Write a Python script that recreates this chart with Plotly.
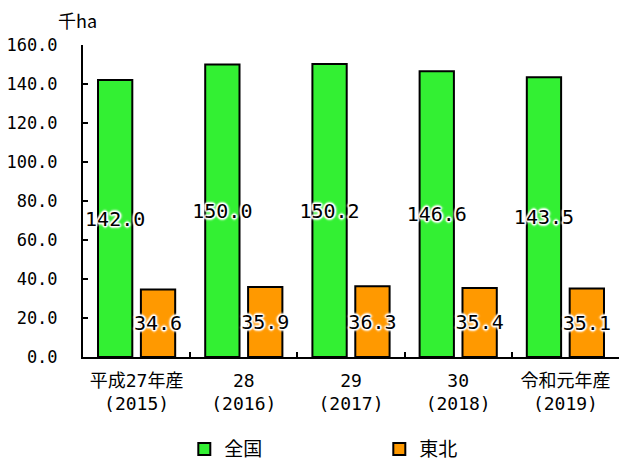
import plotly.graph_objects as go

# 作付面積（千ha）
years = ["平成27年産<br>(2015)", "28<br>(2016)", "29<br>(2017)", "30<br>(2018)", "令和元年産<br>(2019)"]
zenkoku = [142.0, 150.0, 150.2, 146.6, 143.5]
tohoku = [34.6, 35.9, 36.3, 35.4, 35.1]
y_ticks = [0, 20, 40, 60, 80, 100, 120, 140, 160]

num_font = "DejaVu Sans Mono, Noto Sans CJK JP"
jp_font = "Noto Sans CJK JP, DejaVu Sans"
# soft white glow behind the value labels
halo = ("white 1px 1px 1px, white -1px -1px 1px, white 1px -1px 1px, white -1px 1px 1px, "
        "white 2px 0px 2px, white -2px 0px 2px, white 0px 2px 2px, white 0px -2px 2px")

fig = go.Figure()
fig.add_trace(go.Bar(
    name="全国", x=years, y=zenkoku,
    marker=dict(color="#33F033", line=dict(color="black", width=2)),
    offset=-0.36, width=0.32,
    text=[f"{v:.1f}" for v in zenkoku], textposition="inside", textangle=0,
    insidetextanchor="middle", constraintext="none",
    textfont=dict(family=num_font, size=20, color="black", shadow=halo),
))
fig.add_trace(go.Bar(
    name="東北", x=years, y=tohoku,
    marker=dict(color="#FF9900", line=dict(color="black", width=2)),
    offset=0.04, width=0.32,
    text=[f"{v:.1f}" for v in tohoku], textposition="inside", textangle=0,
    insidetextanchor="middle", constraintext="none",
    textfont=dict(family=num_font, size=20, color="black", shadow=halo),
))

fig.update_layout(
    width=620, height=463,
    margin=dict(l=83, r=1, t=45, b=106, autoexpand=False),
    paper_bgcolor="white", plot_bgcolor="white",
    barmode="overlay",
    showlegend=True,
    legend=dict(
        orientation="h", x=0.189, xanchor="left", y=-0.295, yanchor="middle",
        font=dict(family=jp_font, size=19, color="black"),
        entrywidth=150, entrywidthmode="pixels",
        itemclick=False, itemdoubleclick=False,
    ),
    xaxis=dict(
        showline=True, linecolor="black", linewidth=2,
        ticks="inside", tickson="boundaries", ticklen=5, tickcolor="black", tickwidth=2,
        ticklabelstandoff=6, automargin=False,
        tickfont=dict(family=num_font, size=18, color="black"),
        showgrid=False, fixedrange=True,
    ),
    yaxis=dict(
        range=[0, 160], tickvals=y_ticks,
        ticktext=[f"{v:.1f}" for v in y_ticks],
        showline=True, linecolor="black", linewidth=2,
        ticks="inside", ticklen=5, tickcolor="black", tickwidth=2,
        ticklabelstandoff=20, automargin=False,
        tickfont=dict(family=num_font, size=17, color="black"),
        showgrid=False, zeroline=False, fixedrange=True,
    ),
    annotations=[dict(
        text="千ha", xref="paper", yref="paper", x=-0.01, y=1.0,
        xanchor="center", yanchor="bottom", yshift=10, showarrow=False,
        font=dict(family=jp_font, size=18, color="black"),
    )],
)

fig.write_html("out.html")
